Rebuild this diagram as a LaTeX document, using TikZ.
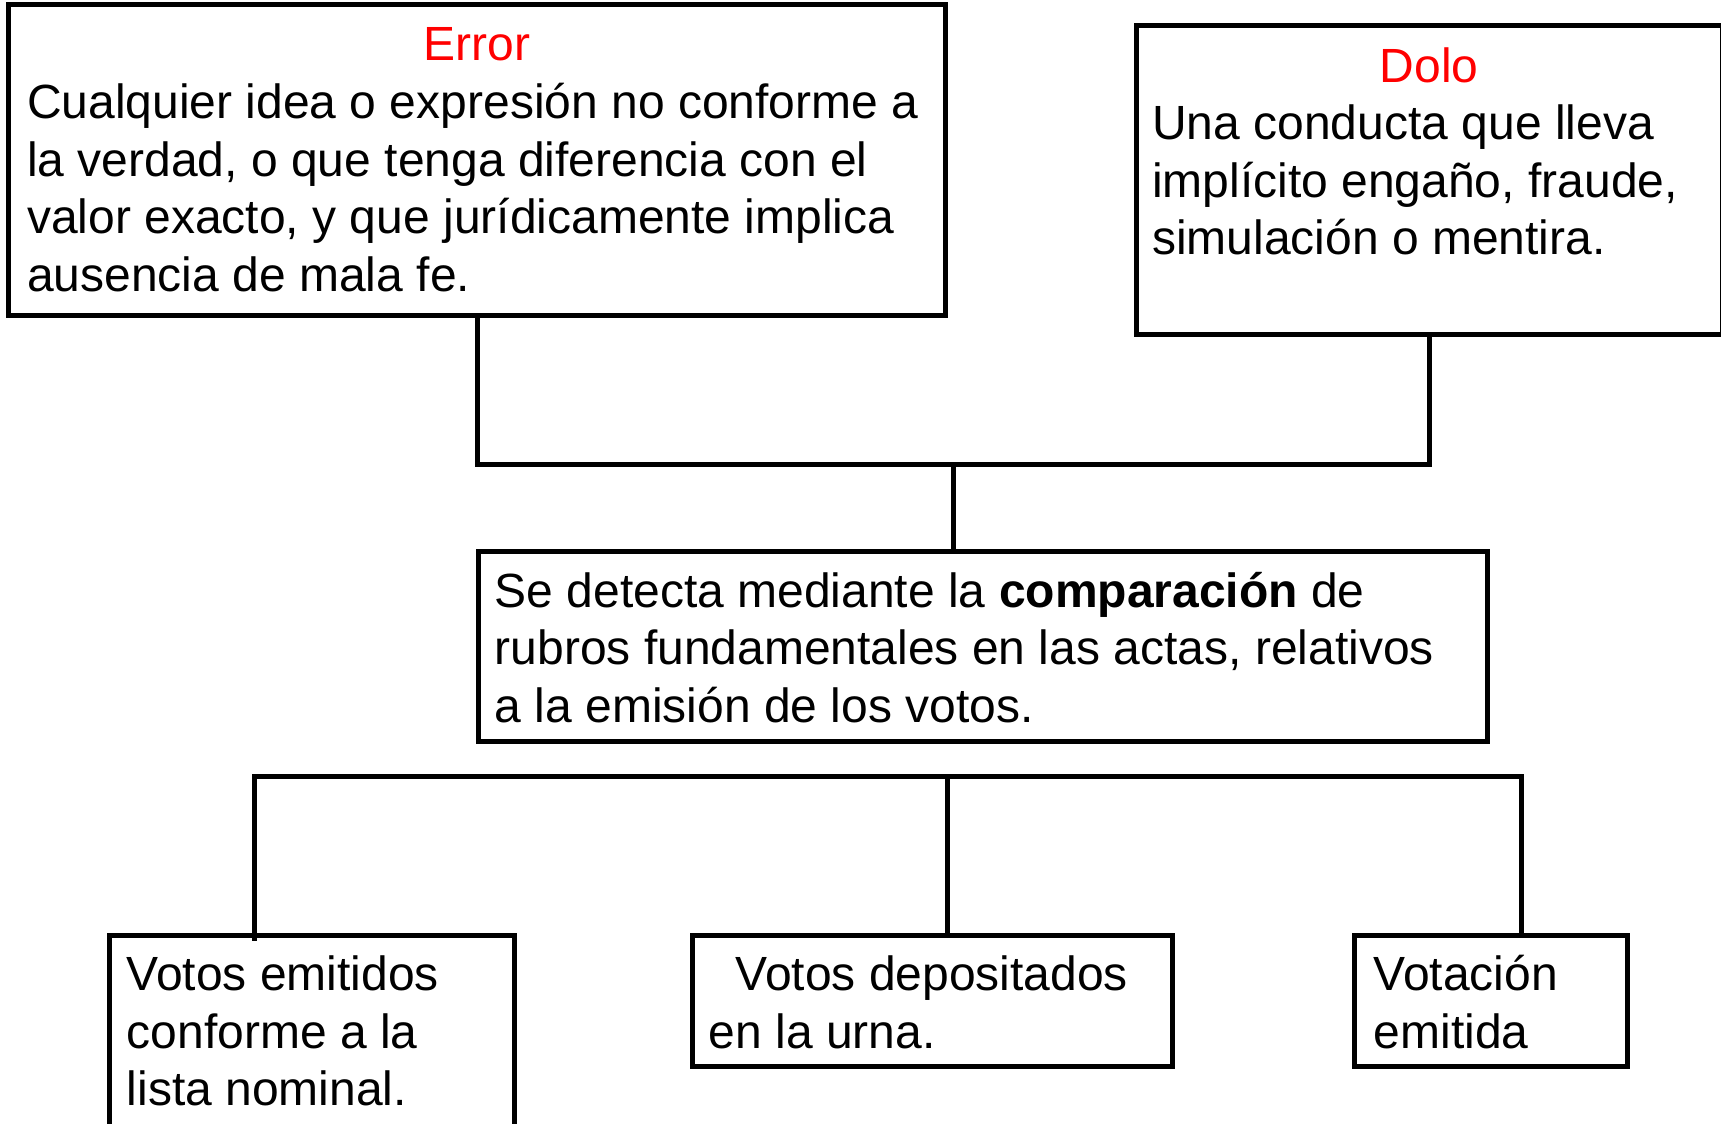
\documentclass[tikz,border=0pt]{standalone}
\usepackage{fontspec}
\setmainfont{Liberation Sans}
\usetikzlibrary{positioning,calc}
\tikzstyle{box} = [draw, rectangle, line width=5pt, outer sep=0pt, inner sep=0pt, anchor=north west]
\tikzstyle{body} = [inner sep=0pt, align=left, anchor=north west, font=\fontsize{48}{57.5}\selectfont]
\tikzstyle{title} = [inner sep=0pt, anchor=north, text=red, font=\fontsize{48}{57.5}\selectfont]
\tikzstyle{link} = [draw, line width=5pt]
\tikzstyle{branch} = [draw, line width=5pt]

\begin{document}
\begin{tikzpicture}[x=1pt, y=1pt]
			\useasboundingbox (0,0) rectangle (1721,-1124);
			% upper definitions
			\node [box, minimum width=937, minimum height=310.5] (error) at (8.5,-4.5) {};
			\node [title, below=16pt of error.north] (errtitle) {\strut Error};
			\node [body, below right=74pt and 18.5pt of error.north west] (errtext) {\strut Cualquier idea o expresión no conforme a\\ la verdad, o que tenga diferencia con el\\ valor exacto, y que jurídicamente implica\\ ausencia de mala fe.};
			
			\node [box, minimum width=586, minimum height=309] (dolo) at (1136,-25.5) {};
			\node [title, below=17pt of dolo.north] (dolotitle) {\strut Dolo};
			\node [body, below right=74pt and 16pt of dolo.north west] (dolotext) {\strut Una conducta que lleva\\ implícito engaño, fraude,\\ simulación o mentira.};
			
			% comparison
			\node [box, minimum width=1009, minimum height=190] (comp) at (478.5,-551.5) {};
			\node [body, below right=15.5pt and 16pt of comp.north west] (comptext) {\strut Se detecta mediante la \textbf{comparación} de\\ rubros fundamentales en las actas, relativos\\ a la emisión de los votos.};
			
			% rubros
			\node [box, minimum width=405, minimum height=230] (lista) at (109.5,-935.5) {};
			\node [body, below right=15pt and 17pt of lista.north west] (listatext) {\strut Votos emitidos\\ conforme a la\\ lista nominal.};
			
			\node [box, minimum width=480, minimum height=131] (urna) at (692.5,-935.5) {};
			\node [body, below right=15pt and 16pt of urna.north west] (urnatext) {\strut\hspace*{27pt}Votos depositados\\ en la urna.};
			
			\node [box, minimum width=273, minimum height=131] (emitida) at (1354.5,-935.5) {};
			\node [body, below right=15pt and 19pt of emitida.north west] (emitidatext) {\strut Votación\\ emitida};
			
			% connectors
			\coordinate (jtop) at (953,-464);
			\draw [link] (error.south) |- (jtop) -| (dolo.south);
			\draw [link] (jtop) -- (jtop |- comp.north);
			
			\coordinate (jl) at (254,-776);
			\coordinate (jm) at (947,-776);
			\coordinate (jr) at (1521,-776);
			\draw [branch] ($(jl |- lista.north)+(0,-5)$) -- (jl) -- (jr) -- (jr |- emitida.north);
			\draw [branch] (jm) -- (jm |- urna.north);
		\end{tikzpicture}
\end{document}
